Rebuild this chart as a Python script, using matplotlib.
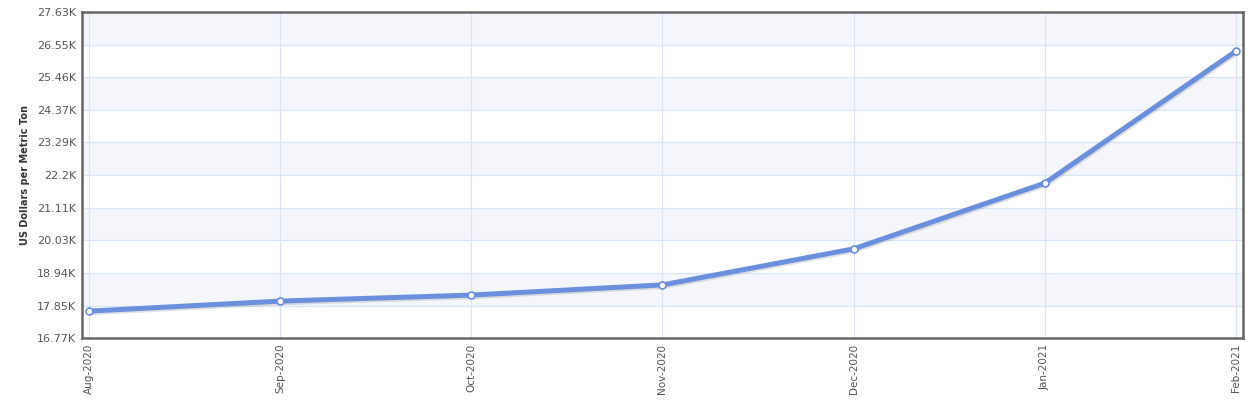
import matplotlib
matplotlib.use("Agg")
import matplotlib.pyplot as plt
import matplotlib.patheffects as pe

months = ["Aug-2020", "Sep-2020", "Oct-2020", "Nov-2020", "Dec-2020", "Jan-2021", "Feb-2021"]
prices = [17665, 18000, 18200, 18540, 19740, 21930, 26330]
ytick_values = [16770, 17850, 18940, 20030, 21110, 22200, 23290, 24370, 25460, 26550, 27630]
ytick_labels = ["16.77K", "17.85K", "18.94K", "20.03K", "21.11K", "22.2K",
                "23.29K", "24.37K", "25.46K", "26.55K", "27.63K"]

fig = plt.figure(figsize=(12.55, 4.03), dpi=100)
ax = fig.add_axes([0.0653, 0.1613, 0.9251, 0.8087])

x = list(range(len(months)))
ax.set_xlim(-0.0366, len(months) - 1 + 0.0366)
ax.set_ylim(ytick_values[0], ytick_values[-1])

# alternating bands
for i in range(len(ytick_values) - 1):
    if i % 2 == 1:
        ax.axhspan(ytick_values[i], ytick_values[i + 1], color="#f4f6fb", zorder=0, lw=0)

ax.set_yticks(ytick_values)
ax.set_yticklabels(ytick_labels)
ax.set_xticks(x)
ax.set_xticklabels(months, rotation=90)
ax.grid(True, color="#d8e4f8", lw=0.9, zorder=1)
ax.set_axisbelow(True)

ax.plot(x, prices, color="#6a8fdc", lw=3.6, zorder=3, solid_capstyle="round",
        path_effects=[pe.SimpleLineShadow(offset=(0.8, -1.2), shadow_color="#999999", alpha=0.3),
                      pe.Normal()])
ax.plot(x, prices, ls="none", marker="o", ms=5, mfc="white", mec="#6a8fdc", mew=1.2,
        zorder=4, clip_on=False)

for s in ax.spines.values():
    s.set_color("#666666")
    s.set_linewidth(1.8)

ax.tick_params(axis="both", length=0, labelsize=7.5, labelcolor="#555555", pad=4)
for lab in ax.get_yticklabels():
    lab.set_fontsize(8)
ax.set_ylabel("US Dollars per Metric Ton", fontsize=7, fontweight="bold", color="#333333", labelpad=5)

fig.savefig("out.png", dpi=100)
